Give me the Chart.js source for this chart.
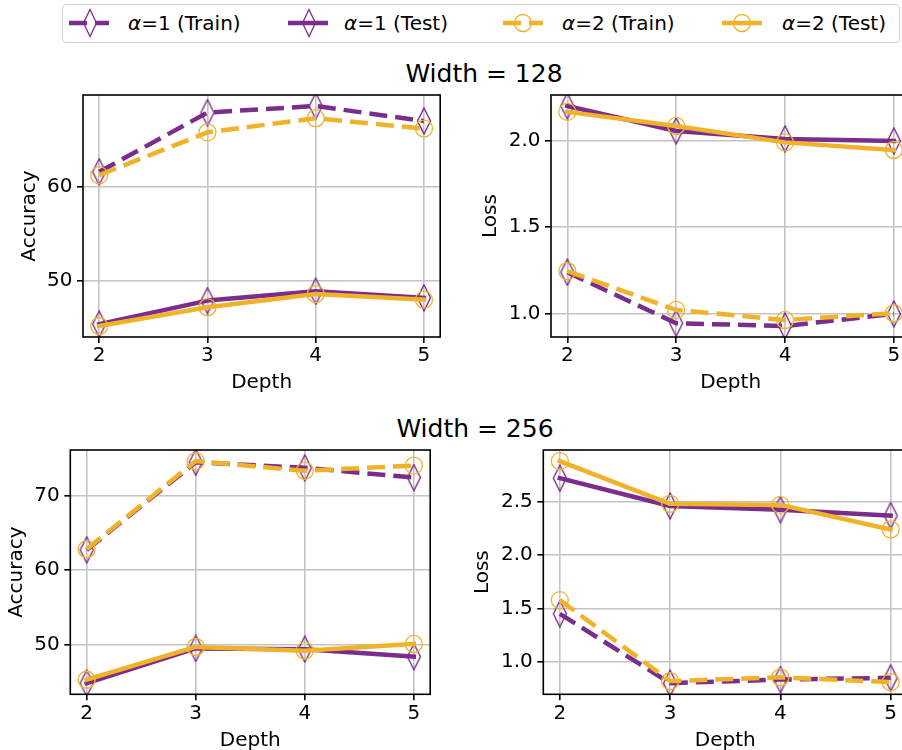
<!DOCTYPE html>
<html><head><meta charset="utf-8">
<script src="https://cdn.jsdelivr.net/npm/chart.js@4.4.1/dist/chart.umd.min.js"></script>
<style>
html,body{margin:0;padding:0;width:902px;height:750px;overflow:hidden;background:#fff;font-family:"DejaVu Sans",sans-serif;color:#000;}
body{position:relative;}
canvas{position:absolute;}
.ptitle{position:absolute;font-size:25px;line-height:25px;white-space:nowrap;transform:translateX(-50%);}
#legend{position:absolute;left:62px;top:4px;width:836px;height:37px;border:1px solid #d3d3d3;border-radius:4px;box-sizing:content-box;}
.lsvg{position:absolute;top:8px;}
.ltxt{position:absolute;top:10.6px;font-size:20px;line-height:24px;white-space:nowrap;}
</style></head>
<body>
<div id="legend"></div>
<div class="ptitle" style="left:484px;top:60.5px;">Width = 128</div>
<div class="ptitle" style="left:475px;top:415.5px;">Width = 256</div>
<canvas id="c1"></canvas><canvas id="c2"></canvas><canvas id="c3"></canvas><canvas id="c4"></canvas>
<script>
// ---------- data ----------
const depths = [2, 3, 4, 5];
const seriesLabels = ['α=1 (Train)', 'α=1 (Test)', 'α=2 (Train)', 'α=2 (Test)'];

const w128AccA1Train = [61.6, 67.9, 68.6, 67.0];
const w128AccA1Test  = [45.4, 47.9, 48.9, 48.2];
const w128AccA2Train = [61.25, 65.8, 67.3, 66.2];
const w128AccA2Test  = [45.2, 47.2, 48.6, 48.0];

const w128LossA1Train = [1.24, 0.946, 0.93, 1.0];
const w128LossA1Test  = [2.20, 2.056, 2.01, 1.998];
const w128LossA2Train = [1.247, 1.023, 0.965, 1.004];
const w128LossA2Test  = [2.166, 2.085, 1.99, 1.946];

const w256AccA1Train = [62.7, 74.45, 73.7, 72.4];
const w256AccA1Test  = [44.84, 49.5, 49.4, 48.4];
const w256AccA2Train = [62.8, 74.6, 73.3, 74.0];
const w256AccA2Test  = [45.3, 49.7, 49.2, 50.1];

const w256LossA1Train = [1.45, 0.80, 0.834, 0.85];
const w256LossA1Test  = [2.72, 2.46, 2.425, 2.37];
const w256LossA2Train = [1.578, 0.82, 0.855, 0.81];
const w256LossA2Test  = [2.88, 2.48, 2.47, 2.24];

const xTicks = [2, 3, 4, 5];
const accTicks128 = [50, 60];
const lossTicks128 = [1.0, 1.5, 2.0];
const accTicks256 = [50, 60, 70];
const lossTicks256 = [1.0, 1.5, 2.0, 2.5];

// ---------- styles ----------
const PURPLE = '#7b2d8e';
const ORANGE = '#f0b229';
const FONT = '"DejaVu Sans", sans-serif';

function diamondCanvas(color) {
  const c = document.createElement('canvas');
  c.width = 16; c.height = 28;
  const g = c.getContext('2d');
  g.strokeStyle = color; g.lineWidth = 1.4; g.lineJoin = 'miter';
  g.beginPath(); g.moveTo(8, 1); g.lineTo(14.5, 14); g.lineTo(8, 27); g.lineTo(1.5, 14); g.closePath(); g.stroke();
  return c;
}
const DIAMOND = diamondCanvas(PURPLE);

function ds(label, values, color, dashed, marker, order) {
  return {
    label, order,
    data: depths.map((d, i) => ({x: d, y: values[i]})),
    borderColor: color, borderWidth: 4.5,
    borderDash: dashed ? [18, 8] : [],
    borderCapStyle: dashed ? 'butt' : 'square',
    borderJoinStyle: 'round',
    pointStyle: marker === 'd' ? DIAMOND : 'circle',
    pointRadius: marker === 'd' ? 7 : 8.5,
    pointHoverRadius: marker === 'd' ? 7 : 8.5,
    pointBorderColor: color,
    pointBackgroundColor: 'rgba(0,0,0,0)',
    pointBorderWidth: 1.3,
    fill: false, tension: 0, clip: 0
  };
}

const boxPlugin = {
  id: 'spines',
  afterDatasetsDraw(chart) {
    const {ctx, chartArea: a} = chart;
    ctx.save(); ctx.strokeStyle = '#000'; ctx.lineWidth = 1.6;
    ctx.strokeRect(a.left, a.top, a.right - a.left, a.bottom - a.top);
    ctx.restore();
  }
};

function noPad(s) { s.paddingTop = 0; s.paddingBottom = 0; s.paddingLeft = 0; s.paddingRight = 0; }

function panel(id, g, series, yTicks, yTitle, fmt) {
  const cv = document.getElementById(id);
  cv.width = g.cw; cv.height = g.ch;
  cv.style.left = g.cx + 'px'; cv.style.top = g.cy + 'px';
  cv.style.width = g.cw + 'px'; cv.style.height = g.ch + 'px';
  const all = series.flat();
  const lo = Math.min(...all), hi = Math.max(...all), pad = 0.05 * (hi - lo);
  const xPad = 0.05 * (depths[depths.length - 1] - depths[0]);
  const gridCommon = {color: '#c4c4c4', lineWidth: 1.6, tickColor: '#000', tickWidth: 1.6, tickLength: 6, drawTicks: true};
  new Chart(cv, {
    type: 'line',
    data: {datasets: [
      ds(seriesLabels[0], series[0], PURPLE, true, 'd', 3),
      ds(seriesLabels[1], series[1], PURPLE, false, 'd', 2),
      ds(seriesLabels[2], series[2], ORANGE, true, 'o', 1),
      ds(seriesLabels[3], series[3], ORANGE, false, 'o', 0)
    ]},
    options: {
      responsive: false, animation: false, devicePixelRatio: 1,
      layout: {padding: {left: 0, top: g.top - g.cy, right: g.cx + g.cw - g.right, bottom: 0}},
      plugins: {legend: {display: false}, tooltip: {enabled: false}},
      events: [],
      scales: {
        x: {
          type: 'linear', position: 'bottom',
          min: depths[0] - xPad, max: depths[depths.length - 1] + xPad,
          afterBuildTicks: s => { s.ticks = xTicks.map(v => ({value: v})); },
          afterFit: s => { s.height = g.ch - (g.bottom - g.cy); noPad(s); },
          grid: gridCommon,
          border: {display: false},
          ticks: {color: '#000', font: {family: FONT, size: 20}, padding: 1, maxRotation: 0, autoSkip: false},
          title: {display: true, text: 'Depth', color: '#000', font: {family: FONT, size: 20}, padding: 0}
        },
        y: {
          type: 'linear', position: 'left',
          min: lo - pad, max: hi + pad,
          afterBuildTicks: s => { s.ticks = yTicks.map(v => ({value: v})); },
          afterFit: s => { s.width = g.left - g.cx; noPad(s); },
          grid: gridCommon,
          border: {display: false},
          ticks: {color: '#000', font: {family: FONT, size: 20}, padding: 4.5, autoSkip: false, callback: v => fmt(v)},
          title: {display: true, text: yTitle, color: '#000', font: {family: FONT, size: 20}, padding: {top: g.ytp, bottom: 0}}
        }
      }
    },
    plugins: [boxPlugin]
  });
}

const accFmt = v => String(v);
const lossFmt = v => v.toFixed(1);

panel('c1', {cx: 0, cy: 85, cw: 450, ch: 310, left: 83, right: 443, top: 95, bottom: 337, ytp: 18},
  [w128AccA1Train, w128AccA1Test, w128AccA2Train, w128AccA2Test], accTicks128, 'Accuracy', accFmt);
panel('c2', {cx: 460, cy: 85, cw: 460, ch: 310, left: 551, right: 911.4, top: 95, bottom: 337, ytp: 18.8},
  [w128LossA1Train, w128LossA1Test, w128LossA2Train, w128LossA2Test], lossTicks128, 'Loss', lossFmt);
panel('c3', {cx: 0, cy: 440, cw: 440, ch: 313, left: 70.3, right: 434.3, top: 450, bottom: 694.3, ytp: 4.5},
  [w256AccA1Train, w256AccA1Test, w256AccA2Train, w256AccA2Test], accTicks256, 'Accuracy', accFmt);
panel('c4', {cx: 460, cy: 440, cw: 460, ch: 313, left: 543.3, right: 907.2, top: 450, bottom: 694.3, ytp: 10.5},
  [w256LossA1Train, w256LossA1Test, w256LossA2Train, w256LossA2Test], lossTicks256, 'Loss', lossFmt);

// ---------- legend (HTML) ----------
const legendItems = [
  {label: seriesLabels[0], color: PURPLE, dashed: true, marker: 'd', lx: 69, tx: 128},
  {label: seriesLabels[1], color: PURPLE, dashed: false, marker: 'd', lx: 288, tx: 344},
  {label: seriesLabels[2], color: ORANGE, dashed: true, marker: 'o', lx: 503, tx: 562},
  {label: seriesLabels[3], color: ORANGE, dashed: false, marker: 'o', lx: 722, tx: 782}
];
const NS = 'http://www.w3.org/2000/svg';
legendItems.forEach(it => {
  const svg = document.createElementNS(NS, 'svg');
  svg.setAttribute('class', 'lsvg'); svg.setAttribute('width', 40); svg.setAttribute('height', 30);
  svg.style.left = it.lx + 'px';
  const ln = document.createElementNS(NS, 'line');
  ln.setAttribute('x1', 0); ln.setAttribute('x2', 40); ln.setAttribute('y1', 15); ln.setAttribute('y2', 15);
  ln.setAttribute('stroke', it.color); ln.setAttribute('stroke-width', 4.5);
  if (it.dashed) ln.setAttribute('stroke-dasharray', '18,8');
  svg.appendChild(ln);
  let mk;
  if (it.marker === 'd') {
    mk = document.createElementNS(NS, 'polygon');
    mk.setAttribute('points', '21,1.5 27.5,15 21,28.5 14.5,15');
  } else {
    mk = document.createElementNS(NS, 'circle');
    mk.setAttribute('cx', 20); mk.setAttribute('cy', 15); mk.setAttribute('r', 8.5);
  }
  mk.setAttribute('fill', 'none'); mk.setAttribute('stroke', it.color); mk.setAttribute('stroke-width', 1.3);
  svg.appendChild(mk);
  document.body.appendChild(svg);
  const t = document.createElement('div');
  t.className = 'ltxt'; t.style.left = it.tx + 'px';
  const parts = it.label.split('α');
  t.innerHTML = '<i>α</i>' + parts[1];
  document.body.appendChild(t);
});
</script>
</body></html>
